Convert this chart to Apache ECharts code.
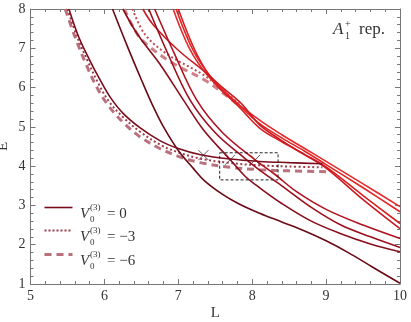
<!DOCTYPE html>
<html>
<head>
<meta charset="utf-8">
<script src="https://cdn.jsdelivr.net/npm/echarts@6/dist/echarts.min.js"></script>
<style>
  html, body { margin: 0; padding: 0; background: #fff; }
  #chart { width: 411px; height: 322px; }
</style>
</head>
<body>
<div id="chart"></div>
<script>
// energy levels E(L) as [L, E]
const levelA = [[5.52,8],[5.65,7.3],[5.8,6.7],[5.94,6.2],[6.08,5.75],[6.25,5.35],[6.48,4.98],[6.75,4.65],[7.0,4.45],[7.3,4.29],[7.7,4.18],[8.1,4.12],[8.5,4.09],[8.95,4.06]];
const levelA_m3 = [[5.5,8],[5.63,7.3],[5.78,6.65],[5.92,6.1],[6.06,5.65],[6.25,5.25],[6.48,4.88],[6.75,4.55],[7.0,4.35],[7.3,4.19],[7.7,4.08],[8.1,4.02],[8.5,3.99],[8.95,3.97]];
const levelA_m6 = [[5.47,8],[5.6,7.3],[5.75,6.6],[5.9,6.0],[6.05,5.55],[6.25,5.12],[6.48,4.75],[6.75,4.45],[7.0,4.25],[7.3,4.09],[7.7,3.97],[8.1,3.91],[8.5,3.88],[9.0,3.86]];
const levelB = [[6.11,8],[6.3,7.1],[6.5,6.2],[6.64,5.6],[6.8,5.0],[7.0,4.4],[7.2,3.95],[7.36,3.62],[7.6,3.28],[7.81,3.05],[8.1,2.8],[8.4,2.58],[8.71,2.35],[9.0,2.1],[9.3,1.8],[9.62,1.44],[10,1.02]];
const levelC = [[6.25,8],[6.45,7.35],[6.75,6.6],[7.07,5.68],[7.35,4.9],[7.7,4.17],[7.9,3.75],[8.1,3.45],[8.4,3.05],[8.8,2.6],[9.2,2.28],[9.6,2.02],[10,1.82]];
const levelD = [[6.52,8],[6.66,7.6],[7.0,6.95],[7.36,6.4],[7.6,6.0],[7.85,5.6],[8.1,5.05],[8.4,4.65],[8.7,4.3],[9.0,3.95],[9.5,3.15],[10,2.41]];
const levelD_m3 = [[6.38,8],[6.55,7.35],[6.85,6.85],[7.36,6.3],[7.6,5.93],[7.85,5.55]];
const levelD_m6 = [[6.27,8],[6.4,7.5],[6.53,7.17],[6.9,6.65],[7.36,6.19],[7.6,5.87],[7.85,5.5]];
const levelE1 = [[6.6,8],[6.85,6.9],[7.16,5.68],[7.5,4.85],[7.9,4.2],[8.1,3.9],[8.4,3.5],[8.8,2.95],[9.2,2.5],[9.6,2.2],[10,1.93]];
const levelE2 = [[6.68,8],[6.95,6.85],[7.25,5.68],[7.6,4.85],[8.04,4.16],[8.3,3.8],[8.6,3.35],[9.0,2.9],[9.5,2.5],[10,2.16]];
const levelR1 = [[6.93,8],[7.15,7.0],[7.4,6.3],[7.7,5.75],[8.1,5.17],[8.4,4.8],[8.71,4.45],[9.0,4.12],[9.5,3.55],[10,2.97]];
const levelR2 = [[6.97,8],[7.2,6.95],[7.45,6.25],[7.75,5.68],[8.1,5.08],[8.4,4.72],[8.71,4.38],[9.0,4.04],[9.5,3.45],[10,2.84]];
const levelR3 = [[7.0,8],[7.25,6.85],[7.5,6.1],[7.8,5.55],[8.1,4.97],[8.4,4.62],[8.71,4.3],[9.0,3.98],[9.5,3.25],[10,2.54]];
const crossMarks = [[7.34,4.28],[7.70,4.16],[8.04,4.16]];
const boxCorners = [[7.56,4.34],[8.35,4.34],[8.35,3.65],[7.56,3.65],[7.56,4.34]];
const xTicks = [5, 6, 7, 8, 9, 10];
const yTicks = [1, 2, 3, 4, 5, 6, 7, 8];

const serif = "'Liberation Serif', 'DejaVu Serif', serif";

const solid = (data, color, w) => ({
  type: "line", data: data, smooth: 0.35, showSymbol: false, silent: true,
  lineStyle: { color: color, width: w || 1.6, type: "solid" }
});
const dotted = (data, color) => ({
  type: "line", data: data, smooth: 0.35, showSymbol: false, silent: true,
  lineStyle: { color: color, width: 2, type: [2, 2.5] }
});
const dashed = (data, color) => ({
  type: "line", data: data, smooth: 0.35, showSymbol: false, silent: true,
  lineStyle: { color: color, width: 3, type: [7, 5] }
});

const axisBase = {
  axisLine: { show: true, lineStyle: { color: "#777", width: 1 } },
  axisTick: { show: true, inside: true, length: 5, lineStyle: { color: "#777" } },
  minorTick: { show: true, splitNumber: 5, length: 3, lineStyle: { color: "#777" } },
  splitLine: { show: false },
  minorSplitLine: { show: false }
};

const chart = echarts.init(document.getElementById("chart"));
chart.setOption({
  animation: false,
  backgroundColor: "#fff",
  grid: { left: 30.5, right: 11, top: 9, bottom: 38, outerBoundsMode: "none", containLabel: false },
  xAxis: [
    Object.assign({}, axisBase, {
      type: "value", min: xTicks[0], max: xTicks[xTicks.length - 1], interval: 1,
      name: "L", nameLocation: "middle", nameGap: 22, nameMoveOverlap: false,
      nameTextStyle: { fontFamily: serif, fontSize: 15, color: "#333" },
      axisLabel: { fontFamily: serif, fontSize: 14, color: "#333", margin: 5 }
    }),
    Object.assign({}, axisBase, {
      type: "value", position: "top", min: 5, max: 10, interval: 1,
      axisLabel: { show: false }
    })
  ],
  yAxis: [
    Object.assign({}, axisBase, {
      type: "value", min: yTicks[0], max: yTicks[yTicks.length - 1], interval: 1,
      name: "E", nameLocation: "middle", nameGap: 20, nameMoveOverlap: false,
      nameTextStyle: { fontFamily: serif, fontSize: 15, color: "#333" },
      axisLabel: { fontFamily: serif, fontSize: 14, color: "#333", margin: 5 }
    }),
    Object.assign({}, axisBase, {
      type: "value", position: "right", min: 1, max: 8, interval: 1,
      axisLabel: { show: false }
    })
  ],
  series: [
    dashed(levelA_m6, "#b9727d"),
    dotted(levelA_m3, "#9e3a4c"),
    dashed(levelD_m6, "#cf7f86"),
    dotted(levelD_m3, "#c04a55"),
    solid(levelR1, "#e42a2a"),
    solid(levelR2, "#e02424"),
    solid(levelR3, "#d81f22"),
    solid(levelD, "#cc1a22"),
    solid(levelE2, "#b0121f"),
    solid(levelE1, "#9c0f1d"),
    solid(levelC, "#8a0d1c"),
    solid(levelB, "#6a0a15"),
    solid(levelA, "#7a0c1c"),
    {
      type: "line", data: boxCorners, showSymbol: false, silent: true,
      lineStyle: { color: "#222", width: 1, type: [3, 2] }
    },
    {
      type: "scatter", data: crossMarks, silent: true,
      symbol: "path://M0,0L10,10M10,0L0,10", symbolSize: 10,
      itemStyle: { color: "none", borderColor: "#333", borderWidth: 1 }
    }
  ],
  graphic: [
    {
      type: "group", left: 42, top: 205,
      children: [
        { type: "line", shape: { x1: 0, y1: 12, x2: 28, y2: 12 }, style: { stroke: "#7a0c1c", lineWidth: 1.6 } },
        { type: "line", shape: { x1: 0, y1: 35, x2: 28, y2: 35 }, style: { stroke: "#9e3a4c", lineWidth: 2, lineDash: [2, 2] } },
        { type: "line", shape: { x1: 0, y1: 59, x2: 28, y2: 59 }, style: { stroke: "#b9727d", lineWidth: 3, lineDash: [7, 5] } }
      ]
    },
    ...[["= 0", 217], ["= \u22123", 240], ["= \u22126", 264]].map(function (row) {
      return {
        type: "group", left: 80, top: row[1] - 14,
        children: [
          { type: "text", x: 0, y: 5, style: { text: "V", font: "italic 15px " + serif, fill: "#333" } },
          { type: "text", x: 10, y: 1, style: { text: "(3)", font: "9px " + serif, fill: "#333" } },
          { type: "text", x: 10, y: 13, style: { text: "0", font: "9px " + serif, fill: "#333" } },
          { type: "text", x: 27, y: 5, style: { text: row[0], font: "15px " + serif, fill: "#333" } }
        ]
      };
    }),
    {
      type: "group", left: 333, top: 19,
      children: [
        { type: "text", x: 0, y: 0, style: { text: "A", font: "italic 17px " + serif, fill: "#333" } },
        { type: "text", x: 12, y: -2, style: { text: "+", font: "10px " + serif, fill: "#333" } },
        { type: "text", x: 12, y: 10, style: { text: "1", font: "10px " + serif, fill: "#333" } },
        { type: "text", x: 26, y: 0, style: { text: "rep.", font: "17px " + serif, fill: "#333" } }
      ]
    }
  ]
});
</script>
</body>
</html>
